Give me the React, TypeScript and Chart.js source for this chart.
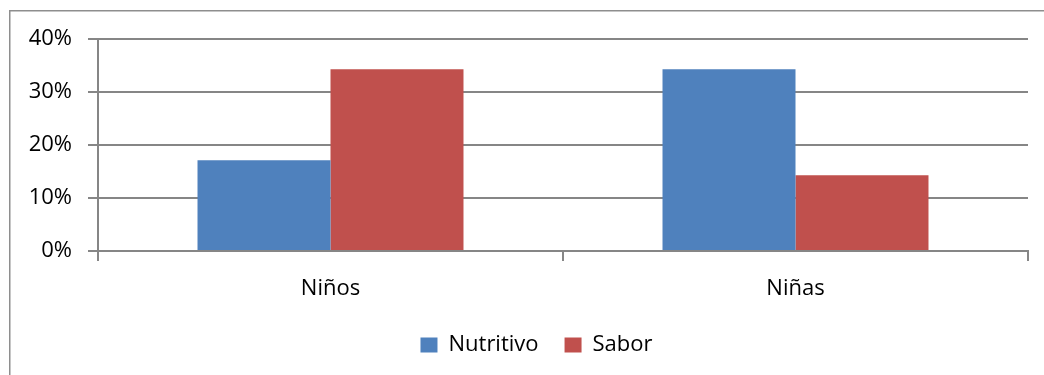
import React, { useEffect, useRef } from "react";
import { Chart, registerables } from "chart.js";

Chart.register(...registerables);

const categories = ["Niños", "Niñas"];
const seriesNames = ["Nutritivo", "Sabor"];
const nutritivo = [0.171, 0.343];
const sabor = [0.343, 0.143];
const yTicks = [0, 0.1, 0.2, 0.3, 0.4];

const FONT = "'Open Sans', sans-serif";
const GRID = "#868686";

const borderPlugin = {
  id: "outerBorder",
  beforeDraw(chart: any) {
    const ctx = chart.ctx;
    ctx.save();
    ctx.strokeStyle = "#8e8e8e";
    ctx.lineWidth = 1.5;
    ctx.beginPath();
    ctx.moveTo(9.75, chart.height + 5);
    ctx.lineTo(9.75, 10.75);
    ctx.lineTo(chart.width + 5, 10.75);
    ctx.stroke();
    ctx.restore();
  },
};

export default function App() {
  const ref = useRef<HTMLCanvasElement | null>(null);

  useEffect(() => {
    if (!ref.current) return;
    const font = { family: FONT, size: 22 };
    const chart = new Chart(ref.current, {
      type: "bar",
      data: {
        labels: categories,
        datasets: [
          {
            label: seriesNames[0],
            data: nutritivo,
            backgroundColor: "#4F81BD",
            borderWidth: 0,
            categoryPercentage: 0.572,
            barPercentage: 1,
          },
          {
            label: seriesNames[1],
            data: sabor,
            backgroundColor: "#C0504D",
            borderWidth: 0,
            categoryPercentage: 0.572,
            barPercentage: 1,
          },
        ],
      },
      options: {
        responsive: false,
        animation: false,
        layout: { padding: { left: 29, right: 0, top: 39, bottom: 9 } },
        plugins: {
          legend: {
            position: "bottom",
            labels: {
              font,
              color: "#000",
              boxWidth: 17,
              boxHeight: 15,
              padding: 26,
            },
          },
          tooltip: { enabled: false },
        },
        scales: {
          x: {
            offset: true,
            grid: {
              display: true,
              drawOnChartArea: false,
              drawTicks: true,
              tickLength: 10,
              color: GRID,
              lineWidth: 2,
              offset: true,
            },
            border: { display: true, color: GRID, width: 2 },
            ticks: { font, color: "#000", padding: 15 },
            afterFit: (s: any) => {
              s.height = 57;
            },
          },
          y: {
            min: 0,
            max: 0.4,
            afterBuildTicks: (s: any) => {
              s.ticks = yTicks.map((v) => ({ value: v }));
            },
            ticks: {
              font,
              color: "#000",
              padding: 16,
              callback: (v: any) => Math.round(Number(v) * 100) + "%",
            },
            grid: { color: GRID, lineWidth: 2, tickLength: 10 },
            border: { display: true, color: GRID, width: 2 },
            afterFit: (s: any) => {
              s.width = 69;
            },
          },
          y2: {
            position: "right",
            display: true,
            grid: { display: false },
            border: { display: false },
            ticks: { display: false },
            afterFit: (s: any) => {
              s.width = 16;
            },
          },
        },
      },
      plugins: [borderPlugin],
    } as any);
    return () => chart.destroy();
  }, []);

  return (
    <div style={{ position: "fixed", left: 0, top: 0, width: 1044, height: 375, background: "#fff" }}>
      <canvas ref={ref} width={1044} height={375} style={{ width: 1044, height: 375, display: "block" }} />
    </div>
  );
}
